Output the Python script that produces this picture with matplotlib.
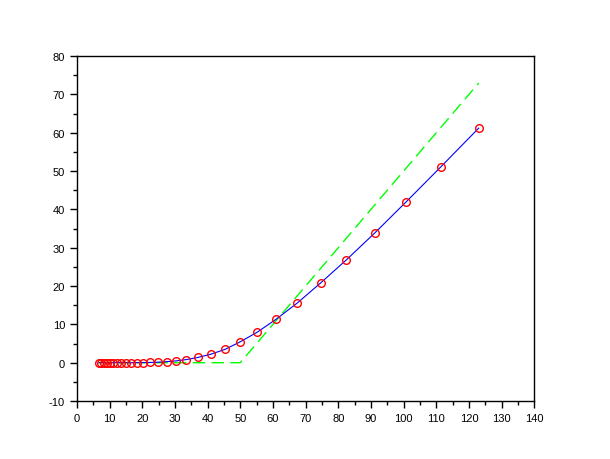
import matplotlib
matplotlib.use("Agg")
import matplotlib.pyplot as plt
from matplotlib.ticker import MultipleLocator

# sample points (asset price) and computed values
xs = [6.77, 7.48, 8.27, 9.14, 10.10, 11.16, 12.34, 13.63, 15.06, 16.65,
      18.39, 20.33, 22.47, 24.83, 27.44, 30.33, 33.52, 37.04, 40.94, 45.24,
      50.00, 55.26, 61.07, 67.49, 74.59, 82.44, 91.11, 100.69, 111.28, 122.98]
approx = [0.0, 0.0, 0.0, 0.0, 0.0, 0.0, 0.0, 0.0, 0.0, 0.0,
          0.01, 0.03, 0.07, 0.14, 0.27, 0.47, 0.82, 1.38, 2.2, 3.45,
          5.45, 8.0, 11.4, 15.6, 20.8, 26.8, 33.8, 41.9, 51.0, 61.2]
payoff = [0.0, 0.0, 0.0, 0.0, 0.0, 0.0, 0.0, 0.0, 0.0, 0.0,
          0.0, 0.0, 0.0, 0.0, 0.0, 0.0, 0.0, 0.0, 0.0, 0.0,
          0.0, 5.26, 11.07, 17.49, 24.59, 32.44, 41.11, 50.69, 61.28, 72.98]

plt.rcParams['font.family'] = ['Liberation Sans', 'DejaVu Sans']
plt.rcParams['axes.unicode_minus'] = False

fig = plt.figure(figsize=(6.1, 4.6), dpi=100)
ax = fig.add_axes([0.126, 0.126, 0.75, 0.75])

ax.plot(xs, payoff, color='#00ff00', lw=1, dashes=(9, 4.5))
ax.plot(xs, approx, color='blue', lw=0.8, marker='o', ms=5.5,
        mfc='none', mec='red', mew=1)

ax.set_xlim(0, 140)
ax.set_ylim(-10, 80)
ax.xaxis.set_major_locator(MultipleLocator(10))
ax.xaxis.set_minor_locator(MultipleLocator(5))
ax.yaxis.set_major_locator(MultipleLocator(10))
ax.yaxis.set_minor_locator(MultipleLocator(5))
ax.tick_params(which='major', direction='out', length=5, width=1, labelsize=8)
ax.tick_params(which='minor', direction='out', length=3, width=1)
for s in ax.spines.values():
    s.set_linewidth(1)

fig.savefig("out.png", dpi=100)
